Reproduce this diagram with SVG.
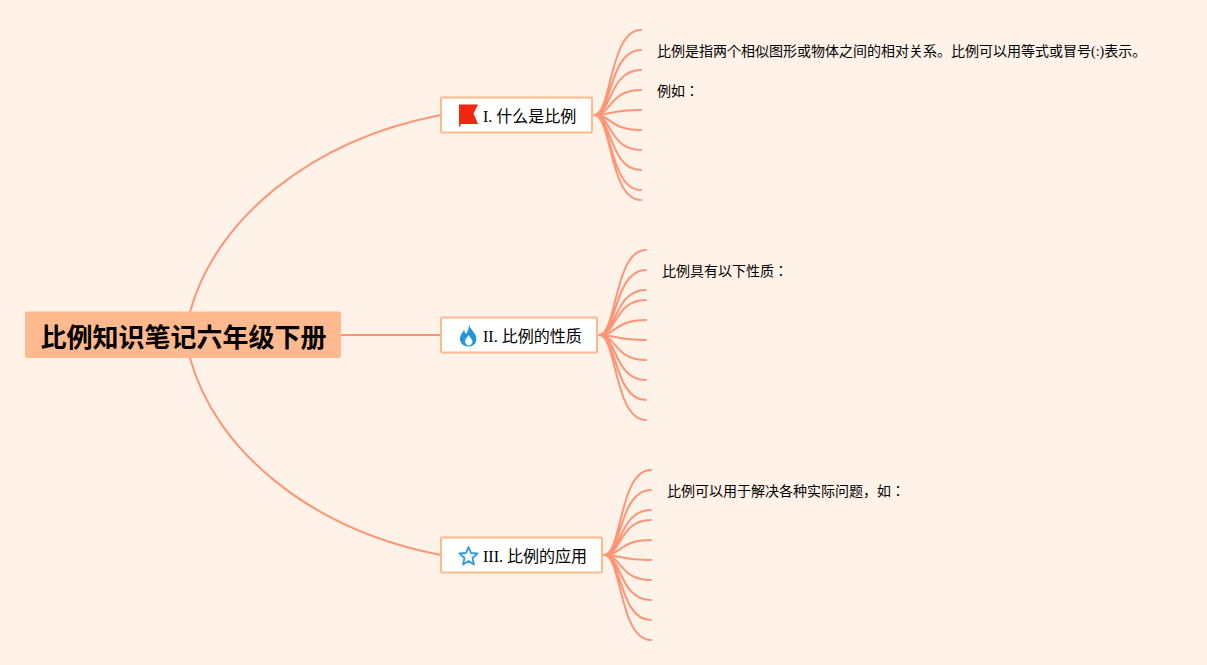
<svg xmlns="http://www.w3.org/2000/svg" width="1207" height="665" viewBox="0 0 1207 665">
<style>
.bg{fill:#fff2e8}
.main{fill:none;stroke:#ff9575;stroke-width:2;stroke-linecap:round}
.sub{fill:none;stroke:#ff9575;stroke-width:2;stroke-linecap:round}
.box{fill:#fff;stroke:#ffb98f;stroke-width:2}
text{font-family:"Liberation Serif","Noto Sans CJK JP",serif;fill:#000}
.t{font-size:16px}
.b{font-size:14px}
.r{font-size:26px;font-weight:700;font-family:"Liberation Sans","Noto Sans CJK JP",sans-serif}
</style>
<rect class="bg" width="1207" height="665"/>
<g id="connectors">
<path class="main" d="M190 312C215 220 310 140 441 115"/>
<path class="main" d="M341 335H441"/>
<path class="main" d="M190 358C215 450 310 530 441 555"/>
<path class="sub" d="M594 115C612 115 609 30 641 30M594 115C612 115 609 50 641 50M594 115C612 115 609 70 641 70M594 115C612 115 609 90 641 90M594 115C612 115 609 110 641 110M594 115C612 115 609 130 641 130M594 115C612 115 609 150 641 150M594 115C612 115 609 170 641 170M594 115C612 115 609 190 641 190M594 115C612 115 609 200 641 200"/>
<path class="sub" d="M599 335C617 335 614 250 646 250M599 335C617 335 614 270 646 270M599 335C617 335 614 290 646 290M599 335C617 335 614 300 646 300M599 335C617 335 614 320 646 320M599 335C617 335 614 340 646 340M599 335C617 335 614 360 646 360M599 335C617 335 614 380 646 380M599 335C617 335 614 400 646 400M599 335C617 335 614 420 646 420"/>
<path class="sub" d="M604 555C622 555 619 470 651 470M604 555C622 555 619 490 651 490M604 555C622 555 619 510 651 510M604 555C622 555 619 520 651 520M604 555C622 555 619 540 651 540M604 555C622 555 619 560 651 560M604 555C622 555 619 580 651 580M604 555C622 555 619 600 651 600M604 555C622 555 619 620 651 620M604 555C622 555 619 640 651 640"/>
</g>
<g id="root">
<rect x="25" y="311.500" width="316" height="46.500" rx="2" fill="#ffb98f"/>
<text class="r" x="40.500" y="347">比例知识笔记六年级下册</text>
</g>
<g id="node1">
<rect class="box" x="441" y="97.500" width="151" height="35" rx="1"/>
<path d="M459 104.500H478L473.500 113.500L478 124H460.500V126.500H459Z" fill="#f5260f"/>
<text class="t" x="483" y="121.500">I. 什么是比例</text>
</g>
<g id="node2">
<rect class="box" x="441" y="317.500" width="156" height="35" rx="1"/>
<path d="M469 324.500C470 329 473 330 475.500 335C478 341 475 346.500 468.500 346.500C462 346.500 458.500 341 460.500 336C461.500 333 463 332 464 330C465 332 465 333 466 334C468 331 469 328 469 324.500ZM468.500 345.500C472 345.500 473 342 472 340C471 338 469.500 337 468.500 335C467.500 337 465.500 339 465 341C465 343 466.500 345.500 468.500 345.500Z" fill="#2196dc" fill-rule="evenodd"/>
<text class="t" x="483" y="341.500">II. 比例的性质</text>
</g>
<g id="node3">
<rect class="box" x="441" y="537.500" width="161" height="35" rx="1"/>
<path d="M468.500 547L471 553L477.500 553.500L472.500 558L474 564.500L468.500 561L463 564.500L464.500 558L459.500 553.500L466 553Z" fill="none" stroke="#2f9bdc" stroke-width="1.800" stroke-linejoin="round"/>
<text class="t" x="483" y="561.500">III. 比例的应用</text>
</g>
<g id="leaf1a"><text class="b" x="657" y="56">比例是指两个相似图形或物体之间的相对关系。比例可以用等式或冒号(:)表示。</text></g>
<g id="leaf1b"><text class="b" x="657" y="96">例如：</text></g>
<g id="leaf2a"><text class="b" x="662" y="276">比例具有以下性质：</text></g>
<g id="leaf3a"><text class="b" x="667" y="496">比例可以用于解决各种实际问题，如：</text></g>
</svg>
